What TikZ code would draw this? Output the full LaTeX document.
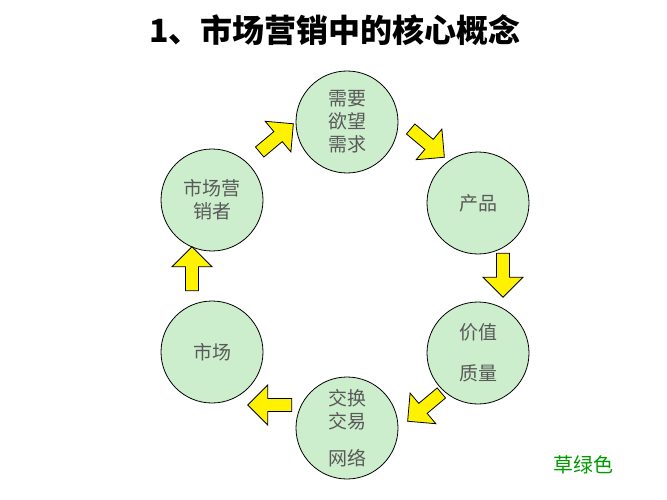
\documentclass[tikz,border=0pt]{standalone}
\usepackage{fontspec}
\newfontfamily\cjk{Noto Sans CJK SC}
\usetikzlibrary{shapes.arrows}
\definecolor{circfill}{RGB}{204,238,204}
\definecolor{grass}{RGB}{0,153,0}
\begin{document}
\begin{tikzpicture}[x=1pt,y=-1pt,
        idea/.style={circle, draw, thick, fill=circfill, minimum size=102pt, inner sep=0pt, align=center, text=black!65, font=\cjk\fontsize{19}{23}\selectfont},
        flow/.style={single arrow, draw, thick, fill=yellow, minimum height=44pt, minimum width=40pt, single arrow head extend=7pt, inner sep=3pt}
    ]
    \useasboundingbox (0,0) rectangle (667,500);

    \node[font=\cjk\bfseries\fontsize{32}{36}\selectfont] (title) at (335,30) {1、市场营销中的核心概念};

    \node[idea] (needs) at (347,122) {需要\\欲望\\需求};
    \node[idea] (product) at (478,203) {产品};
    \node[idea] (value) at (478,353) {价值\\[18pt]质量};
    \node[idea] (exchange) at (347,428) {交换\\交易\\[14pt]网络};
    \node[idea] (market) at (212,352) {市场};
    \node[idea] (marketer) at (212,200) {市场营\\销者};

    \node[flow, rotate=40] (a1) at (274,140) {};
    \node[flow, rotate=-40] (a2) at (425,141) {};
    \node[flow, rotate=-90] (a3) at (503,272) {};
    \node[flow, rotate=-140] (a4) at (427,405) {};
    \node[flow, rotate=180] (a5) at (273,405) {};
    \node[flow, rotate=90] (a6) at (192,272) {};

    \node[text=grass, font=\cjk\fontsize{20}{24}\selectfont] (note) at (583,465) {草绿色};
\end{tikzpicture}
\end{document}
